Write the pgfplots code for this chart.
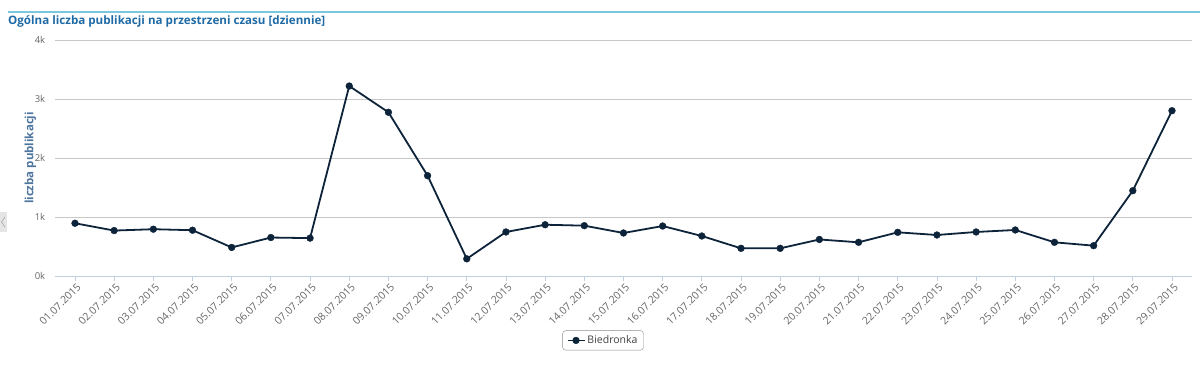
\documentclass[border=0pt]{standalone}
\usepackage{pgfplots}
\pgfplotsset{compat=1.18}
\usepackage{fontspec}
\setmainfont{Open Sans}
\definecolor{navy}{HTML}{0D233A}
\definecolor{titleblue}{HTML}{1F6AA5}
\definecolor{topline}{HTML}{7CC7E0}
\definecolor{tickgray}{HTML}{666666}
\definecolor{gridgray}{HTML}{C8C8C8}
\definecolor{axiscol}{HTML}{C0D0E0}
\definecolor{ylabcol}{HTML}{4D759E}
\pgfplotstableread{
x y
0 894
1 770
2 793
3 776
4 484
5 652
6 642
7 3220
8 2775
9 1700
10 291
11 746
12 869
13 853
14 729
15 847
16 678
17 469
18 469
19 619
20 571
21 740
22 695
23 746
24 780
25 571
26 514
27 1446
28 2802
}\mydata
\begin{document}
\begin{tikzpicture}[x=1pt,y=1pt]
\path[use as bounding box] (0,0) rectangle (1200,369);
\draw[color=topline, line width=1.2pt] (8,357) -- (1200,357);
\node[anchor=base west, font=\bfseries\fontsize{11.6}{13}\selectfont, text=titleblue, inner sep=0] at (8,344.5) {Ogólna liczba publikacji na przestrzeni czasu [dziennie]};
\fill[color=black!10] (0,137) rectangle (7,157);
\draw[color=black!35, line width=0.6pt] (5,152) -- (1.5,147) -- (5,142);
\begin{axis}[
  at={(55.4pt,93pt)}, anchor=south west,
  scale only axis, width=1136.2pt, height=236pt,
  xmin=-0.5, xmax=28.5, ymin=0, ymax=4000,
  axis lines*=left,
  axis line style={-},
  y axis line style={draw=none},
  x axis line style={draw=axiscol, line width=0.8pt},
  ytick={0,1000,2000,3000,4000},
  yticklabels={0k,1k,2k,3k,4k},
  ytick style={draw=none},
  xtick={0,...,28},
  xticklabels={01.07.2015,02.07.2015,03.07.2015,04.07.2015,05.07.2015,06.07.2015,07.07.2015,08.07.2015,09.07.2015,10.07.2015,11.07.2015,12.07.2015,13.07.2015,14.07.2015,15.07.2015,16.07.2015,17.07.2015,18.07.2015,19.07.2015,20.07.2015,21.07.2015,22.07.2015,23.07.2015,24.07.2015,25.07.2015,26.07.2015,27.07.2015,28.07.2015,29.07.2015},
  xtick style={draw=axiscol, line width=0.8pt},
  tick align=outside,
  major tick length=5pt,
  ymajorgrids,
  major grid style={draw=gridgray, line width=0.8pt},
  /pgf/number format/assume math mode=true,
  yticklabel style={font=\fontsize{9.5}{11}\selectfont, text=tickgray, anchor=east, inner sep=0pt, xshift=-5pt},
  xticklabel style={font=\fontsize{10.5}{12}\selectfont, text=tickgray, rotate=45, anchor=east, inner sep=0pt, yshift=-6pt},
  ylabel={liczba publikacji},
  every axis y label/.style={at={(axis description cs:-0.022,0.5)}, rotate=90, anchor=center, font=\bfseries\fontsize{11.5}{13}\selectfont, text=ylabcol},
  legend style={at={(0.482,-0.273)}, anchor=center, draw=black!45, rounded corners=3pt, font=\fontsize{10.5}{12}\selectfont, text=black!75, inner xsep=4pt, inner ysep=3pt},
  legend image code/.code={\draw[mark repeat=2,mark phase=2] plot coordinates {(0cm,0cm)(0.3cm,0cm)(0.6cm,0cm)};},
  clip=false,
]
\addplot[color=navy, line width=1.8pt, mark=*, mark size=3.4pt, mark options={solid, fill=navy, draw=navy, line width=0.4pt}] table[x=x,y=y] {\mydata};
\addlegendentry{Biedronka}
\end{axis}
\end{tikzpicture}
\end{document}
